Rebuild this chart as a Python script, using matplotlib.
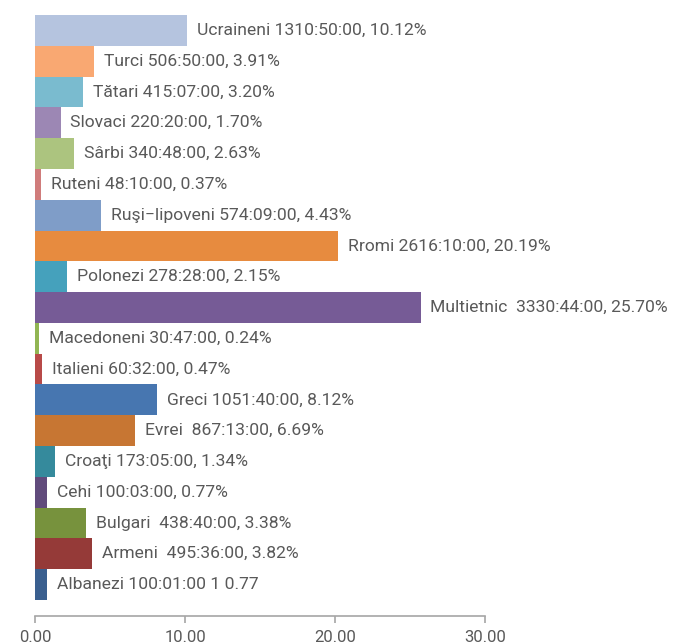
import matplotlib
matplotlib.use("Agg")
import matplotlib.pyplot as plt

plt.rcParams['font.family'] = ['Roboto', 'DejaVu Sans']

# bottom to top
groups = ["Albanezi", "Armeni", "Bulgari", "Cehi", "Croaţi", "Evrei", "Greci",
          "Italieni", "Macedoneni", "Multietnic", "Polonezi", "Rromi",
          "Ruşi−lipoveni", "Ruteni", "Sârbi", "Slovaci", "Tătari", "Turci",
          "Ucraineni"]
percent = [0.77, 3.82, 3.38, 0.77, 1.34, 6.69, 8.12, 0.47, 0.24, 25.70, 2.15,
           20.19, 4.43, 0.37, 2.63, 1.70, 3.20, 3.91, 10.12]
labels = ["Albanezi 100:01:00 1 0.77",
          "Armeni  495:36:00, 3.82%",
          "Bulgari  438:40:00, 3.38%",
          "Cehi 100:03:00, 0.77%",
          "Croaţi 173:05:00, 1.34%",
          "Evrei  867:13:00, 6.69%",
          "Greci 1051:40:00, 8.12%",
          "Italieni 60:32:00, 0.47%",
          "Macedoneni 30:47:00, 0.24%",
          "Multietnic  3330:44:00, 25.70%",
          "Polonezi 278:28:00, 2.15%",
          "Rromi 2616:10:00, 20.19%",
          "Ruşi−lipoveni 574:09:00, 4.43%",
          "Ruteni 48:10:00, 0.37%",
          "Sârbi 340:48:00, 2.63%",
          "Slovaci 220:20:00, 1.70%",
          "Tătari 415:07:00, 3.20%",
          "Turci 506:50:00, 3.91%",
          "Ucraineni 1310:50:00, 10.12%"]
colors = ["#3a5f8f", "#953a38", "#77923d", "#614b7c", "#358a9c", "#c77633",
          "#4776b0", "#b84a48", "#91b553", "#765b96", "#45a1bc", "#e78b3f",
          "#7f9dc8", "#d07c7b", "#acc47f", "#9c87b4", "#7abbcf", "#f9a872",
          "#b5c4df"]
xticks = [0, 10, 20, 30]

fig = plt.figure(figsize=(6.81, 6.43), dpi=100)
ax = fig.add_axes([35 / 681, 1 - 616 / 643, 450 / 681, 601 / 643])

ypos = list(range(len(groups)))
ax.barh(ypos, percent, height=1.0, color=colors, linewidth=0)

for y, v, lab in zip(ypos, percent, labels):
    ax.annotate(lab, (v, y), xytext=(10, 0), textcoords="offset pixels",
                ha="left", va="center", fontsize=12.6, color="#595959")

ax.set_xlim(0, 30)
ax.set_ylim(-1.02, 18.5)
ax.set_xticks(xticks)
ax.set_xticklabels(["%.2f" % t for t in xticks])
ax.set_yticks([])
for s in ["top", "right", "left"]:
    ax.spines[s].set_visible(False)
ax.spines["bottom"].set_color("#a6a6a6")
ax.spines["bottom"].set_linewidth(1.2)
ax.tick_params(axis="x", direction="out", length=5, width=1.2,
               color="#a6a6a6", labelcolor="#595959", labelsize=12, pad=5)

fig.savefig("out.png", dpi=100)
